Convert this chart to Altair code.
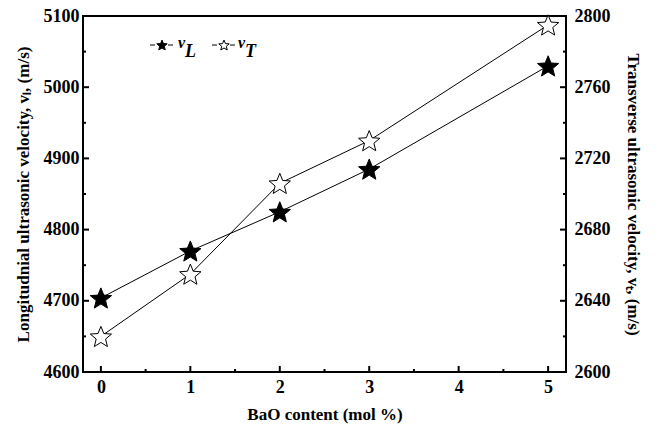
import math
import altair as alt
import pandas as pd

bao = [0, 1, 2, 3, 5]
v_long = [4704, 4770, 4825, 4885, 5030]
v_trans = [2620, 2655, 2706, 2730, 2795]

x_major = [0, 1, 2, 3, 4, 5]
x_minor = [0.5, 1.5, 2.5, 3.5, 4.5]
y_major = [4700, 4800, 4900, 5000]
y_minor = [4650, 4750, 4850, 4950, 5050]

W, H = 483, 356
FONT = "Liberation Serif"

# five-pointed star as a custom SVG symbol path in the [-1, 1] box
_pts = []
for k in range(10):
    r = 1.0 if k % 2 == 0 else 0.44
    a = math.radians(-90 + 36 * k)
    _pts.append(f"{r * math.cos(a):.3f},{r * math.sin(a) + 0.1:.3f}")
STAR = "M" + "L".join(_pts) + "Z"

df = pd.DataFrame({"x": bao, "vL": v_long, "vT": v_trans})
xs = alt.Scale(domain=[-0.2, 5.2], nice=False, zero=False)
yl = alt.Scale(domain=[4600, 5100], nice=False, zero=False)
yr = alt.Scale(domain=[2600, 2800], nice=False, zero=False)

xaxis = alt.Axis(title="BaO content (mol %)", orient="bottom", values=x_major, format="d", tickSize=0,
                 labelPadding=6, titlePadding=10, domain=False, grid=False)

base = alt.Chart(df)

lineL = base.mark_line(color="black", strokeWidth=1).encode(
    x=alt.X("x:Q", scale=xs, axis=xaxis),
    y=alt.Y("vL:Q", scale=yl, axis=alt.Axis(
        title="Longitudnial ultrasonic velocity, vₗ, (m/s)", orient="left",
        values=[4600, 4700, 4800, 4900, 5000, 5100], format="d",
        tickSize=0, labelPadding=4, titlePadding=11, domain=False, grid=False)),
)
lineT = base.mark_line(color="black", strokeWidth=1).encode(
    x=alt.X("x:Q", scale=xs, axis=xaxis),
    y=alt.Y("vT:Q", scale=yr, axis=alt.Axis(
        title="Transverse ultrasonic velocity, vₜ, (m/s)", orient="right",
        values=[2600, 2640, 2680, 2720, 2760, 2800], format="d",
        tickSize=0, labelPadding=8, titlePadding=13, domain=False, grid=False)),
)
ptsL = base.mark_point(shape=STAR, filled=True, fill="black", stroke="black", strokeWidth=1,
                       size=500, opacity=1).encode(
    x=alt.X("x:Q", scale=xs, axis=xaxis), y=alt.Y("vL:Q", scale=yl, axis=None))
ptsT = base.mark_point(shape=STAR, filled=True, fill="white", stroke="black", strokeWidth=1,
                       size=500, opacity=1).encode(
    x=alt.X("x:Q", scale=xs, axis=xaxis), y=alt.Y("vT:Q", scale=yr, axis=None))

tdf_xmaj = pd.DataFrame({"t": x_major})
tdf_xmin = pd.DataFrame({"t": x_minor})
tdf_ymaj = pd.DataFrame({"t": y_major})
tdf_ymin = pd.DataFrame({"t": y_minor})

def xticks(d, L):
    return alt.Chart(d).mark_rule(color="black", strokeWidth=2).encode(
        x=alt.X("t:Q", scale=xs, axis=xaxis), y=alt.value(H), y2=alt.value(H - L))

def yticks(d, L, x0, x1):
    return alt.Chart(d).mark_rule(color="black", strokeWidth=2).encode(
        y=alt.Y("t:Q", scale=yl, axis=None), x=alt.value(x0), x2=alt.value(x1))

one = pd.DataFrame({"k": [0]})

def leg_star(px, fill):
    return alt.Chart(one).mark_point(shape=STAR, filled=True, fill=fill, stroke="black",
                                     strokeWidth=1, size=120, opacity=1).encode(
        x=alt.value(px), y=alt.value(29))

def leg_dash(px):
    return alt.Chart(one).mark_rule(color="black", strokeWidth=1).encode(
        x=alt.value(px - 3), x2=alt.value(px + 2), y=alt.value(29))

def leg_text(txt, px, py, size):
    return alt.Chart(one).mark_text(text=txt, font=FONT, fontWeight="bold", fontStyle="italic",
                                    fontSize=size, align="left", baseline="alphabetic",
                                    color="black").encode(x=alt.value(px), y=alt.value(py))

chart = alt.layer(
    lineL, lineT,
    xticks(tdf_xmaj, 6), xticks(tdf_xmin, 3),
    yticks(tdf_ymaj, 6, 0, 6), yticks(tdf_ymin, 3, 0, 3),
    yticks(tdf_ymaj, 6, W - 6, W), yticks(tdf_ymin, 3, W - 3, W),
    ptsL, ptsT,
    leg_dash(70), leg_star(79, "black"), leg_dash(88), leg_text("v", 95, 32, 16), leg_text("L", 102, 41, 18),
    leg_dash(132), leg_star(141, "white"), leg_dash(150), leg_text("v", 155, 32, 16), leg_text("T", 162, 41, 18),
).resolve_scale(y="independent").properties(
    width=W, height=H,
    autosize=alt.AutoSizeParams(type="none"),
    padding={"left": 83, "top": 16, "right": 95, "bottom": 56},
    background="white",
).configure_view(stroke="black", strokeWidth=2).configure_axis(
    labelFont=FONT, titleFont=FONT, labelFontWeight="bold", titleFontWeight="bold",
    labelFontSize=18, titleFontSize=17, labelColor="black", titleColor="black",
)

chart.save("out.html", embed_options={"renderer": "svg", "actions": False})
